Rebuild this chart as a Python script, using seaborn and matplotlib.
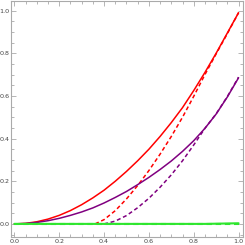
import numpy as np
import pandas as pd
import matplotlib
matplotlib.use("Agg")
import matplotlib.pyplot as plt
import seaborn as sns
from matplotlib.ticker import MultipleLocator, FormatStrFormatter

# values
x_full = [0.0, 0.05, 0.1, 0.15, 0.2, 0.25, 0.3, 0.35, 0.4, 0.45, 0.5,
          0.55, 0.6, 0.65, 0.7, 0.75, 0.8, 0.85, 0.9, 0.95, 1.0]
red_solid = [0.0, 0.0025, 0.01, 0.0225, 0.04, 0.0625, 0.09, 0.122, 0.158, 0.2, 0.246,
             0.296, 0.35, 0.41, 0.475, 0.545, 0.625, 0.71, 0.8, 0.895, 0.99]
purple_solid = [0.0, 0.002, 0.007, 0.015, 0.026, 0.04, 0.056, 0.075, 0.098, 0.124, 0.152,
                0.184, 0.218, 0.255, 0.295, 0.34, 0.39, 0.448, 0.515, 0.595, 0.685]
green_solid = [0.0] * 18 + [0.001, 0.002, 0.003]

x_red_dash = [0.36, 0.4, 0.45, 0.5, 0.55, 0.6, 0.65, 0.7, 0.75, 0.8, 0.85, 0.9, 0.95, 1.0]
red_dashed = [0.0, 0.02, 0.062, 0.117, 0.18, 0.25, 0.327, 0.41, 0.5, 0.598, 0.7, 0.797, 0.892, 0.99]

x_purple_dash = [0.4, 0.45, 0.5, 0.55, 0.6, 0.65, 0.7, 0.75, 0.8, 0.85, 0.9, 0.95, 1.0]
purple_dashed = [0.0, 0.013, 0.039, 0.076, 0.12, 0.172, 0.23, 0.296, 0.37, 0.448, 0.516, 0.597, 0.688]

green_dashed = [0.0] * 21

RED = "#ff0000"
PURPLE = "#800080"
GREEN = "#2ee62e"
DASH = (2.6, 1.8)

sns.set_theme(style="ticks")
plt.rcParams["font.family"] = ["DejaVu Sans"]

fig = plt.figure(figsize=(2.45, 2.45), dpi=100)
ax = fig.add_axes([0.045, 0.033, 0.947, 0.963])

lw = 1.1
sns.lineplot(x=x_full, y=red_solid, ax=ax, color=RED, lw=lw)
sns.lineplot(x=x_red_dash, y=red_dashed, ax=ax, color=RED, lw=lw)
ax.lines[-1].set_dashes(DASH)
sns.lineplot(x=x_full, y=purple_solid, ax=ax, color=PURPLE, lw=lw)
sns.lineplot(x=x_purple_dash, y=purple_dashed, ax=ax, color=PURPLE, lw=lw)
ax.lines[-1].set_dashes(DASH)
sns.lineplot(x=x_full, y=green_dashed, ax=ax, color=GREEN, lw=1.5)
ax.lines[-1].set_dashes(DASH)
sns.lineplot(x=x_full, y=green_solid, ax=ax, color=GREEN, lw=1.5)

ax.set_xlim(-0.015, 1.02)
ax.set_ylim(-0.061, 1.045)

ax.xaxis.set_major_locator(MultipleLocator(0.2))
ax.xaxis.set_minor_locator(MultipleLocator(0.05))
ax.yaxis.set_major_locator(MultipleLocator(0.2))
ax.yaxis.set_minor_locator(MultipleLocator(0.05))
ax.xaxis.set_major_formatter(FormatStrFormatter("%.1f"))
ax.yaxis.set_major_formatter(FormatStrFormatter("%.1f"))

ax.tick_params(which="both", direction="in", top=True, right=True,
               color="#aaaaaa", width=0.6, labelsize=4.6, labelcolor="#444444", pad=1.2)
ax.tick_params(which="major", length=3.5)
ax.tick_params(which="minor", length=2)
for s in ax.spines.values():
    s.set_color("#aaaaaa")
    s.set_linewidth(0.8)

fig.savefig("out.png", dpi=100)
